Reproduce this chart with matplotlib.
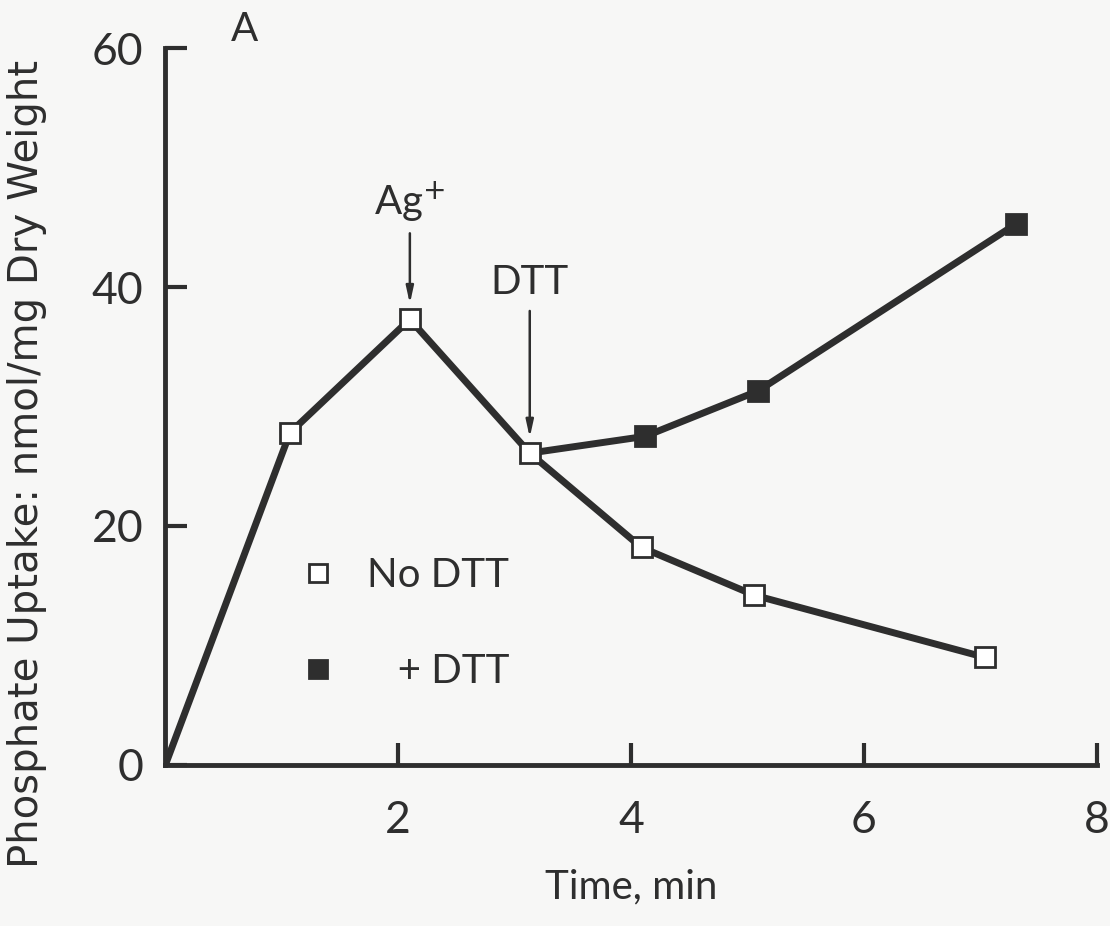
"""
Phosphate uptake after Ag+ addition, with and without DTT (panel A).
"""

import matplotlib
matplotlib.use('Agg')
import matplotlib.pyplot as plt
from matplotlib.lines import Line2D

# time (min) and uptake (nmol/mg dry weight)
no_dtt_time = [0, 1.07, 2.1, 3.13, 4.09, 5.06, 7.04]
no_dtt_uptake = [0, 27.8, 37.3, 26.1, 18.2, 14.2, 9.0]

dtt_time = [3.13, 4.12, 5.09, 7.31]
dtt_uptake = [26.1, 27.5, 31.3, 45.3]

x_ticks = [2, 4, 6, 8]
y_ticks = [0, 20, 40, 60]

INK = '#2e2e2e'
FONT = 'Lato'


def main():
    plt.rcParams['font.family'] = [FONT, 'DejaVu Sans']
    fig = plt.figure(figsize=(11.1, 9.26), dpi=100)
    fig.patch.set_facecolor('#f7f7f6')
    ax = fig.add_axes([0.149, 0.174, 0.839, 0.774])
    ax.set_facecolor('#f7f7f6')

    # lines first, markers on top
    ax.plot(no_dtt_time, no_dtt_uptake, color=INK, lw=5, solid_capstyle='butt', zorder=2)
    ax.plot(dtt_time, dtt_uptake, color=INK, lw=5, solid_capstyle='butt', zorder=2)
    ax.plot(no_dtt_time[1:], no_dtt_uptake[1:], ls='none', marker='s', ms=14,
            mfc='white', mec=INK, mew=2, zorder=3)
    ax.plot(dtt_time[1:], dtt_uptake[1:], ls='none', marker='s', ms=14,
            mfc=INK, mec=INK, mew=2, zorder=3)

    ax.set_xlim(0, 8)
    ax.set_ylim(0, 60)
    ax.set_xticks(x_ticks)
    ax.set_yticks(y_ticks)
    ax.tick_params(direction='in', length=16, width=3, colors=INK, labelsize=32)
    ax.tick_params(axis='x', pad=25)
    ax.tick_params(axis='y', pad=16)
    for s in ['top', 'right']:
        ax.spines[s].set_visible(False)
    for s in ['left', 'bottom']:
        ax.spines[s].set_linewidth(3.5)
        ax.spines[s].set_color(INK)

    ax.set_xlabel('Time, min', fontsize=29, color=INK)
    ax.xaxis.set_label_coords(0.5, -0.145)
    # the original face is wide, so a wider family keeps the label's length
    ax.set_ylabel('Phosphate Uptake: nmol/mg Dry Weight', fontsize=29, color=INK,
                  family=['DejaVu Sans'])
    ax.yaxis.set_label_coords(-0.127, 0.42)

    # arrows marking additions
    arrow = dict(arrowstyle='-|>,head_length=1.0,head_width=0.22', color=INK, lw=1.8,
                 shrinkA=0, shrinkB=0)
    ax.annotate('', xy=(no_dtt_time[2], 38.6), xytext=(no_dtt_time[2], 44.5),
                arrowprops=arrow)
    ax.text(no_dtt_time[2], 45.3, 'Ag$^{+}$', fontsize=29, ha='center', va='bottom', color=INK)
    ax.annotate('', xy=(dtt_time[0], 27.4), xytext=(dtt_time[0], 38.0),
                arrowprops=arrow)
    ax.text(dtt_time[0], 38.8, 'DTT', fontsize=29, ha='center', va='bottom', color=INK)

    ax.text(0.07, 1.0, 'A', transform=ax.transAxes, fontsize=29, ha='left',
            va='bottom', color=INK)

    handles = [
        Line2D([], [], ls='none', marker='s', ms=13, mfc='white', mec=INK, mew=2),
        Line2D([], [], ls='none', marker='s', ms=13, mfc=INK, mec=INK, mew=2),
    ]
    ax.legend(handles, ['No DTT', '   + DTT'], loc='upper left',
              bbox_to_anchor=(0.108, 0.34), frameon=False, fontsize=29,
              handlelength=0.8, handletextpad=0.8, labelspacing=1.45,
              labelcolor=INK)

    plt.savefig('out.png', facecolor=fig.get_facecolor())


if __name__ == "__main__":
    main()
